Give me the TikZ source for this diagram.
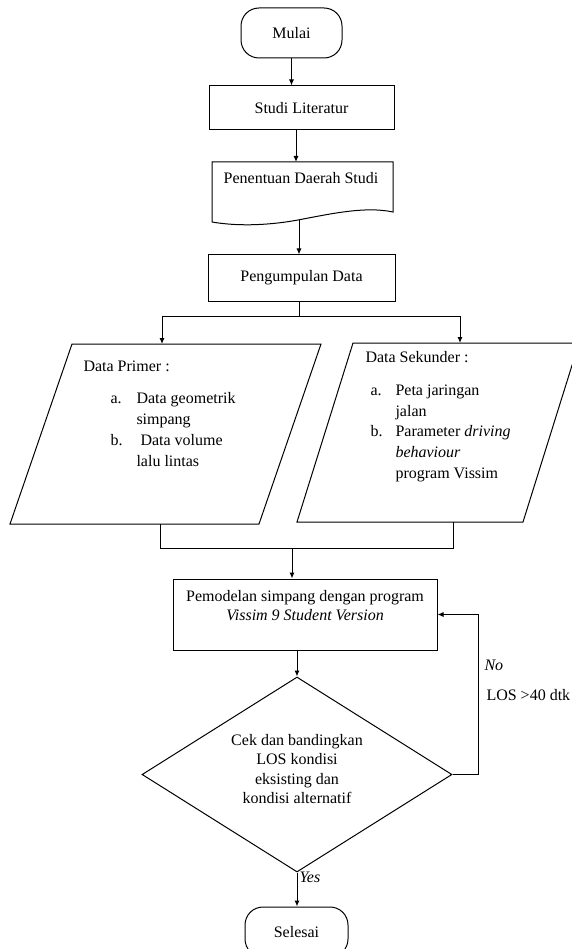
\documentclass[tikz,border=0pt]{standalone}
\usepackage{fontspec}
\setmainfont{Liberation Serif}
\usetikzlibrary{arrows.meta,shapes.geometric}
\begin{document}
\begin{tikzpicture}[x=1pt,y=-1pt,
  every node/.style={font=\fontsize{16}{19.5}\selectfont},
  line width=1pt,
  term/.style={draw, rectangle, rounded corners=18pt, inner sep=0pt},
  procbox/.style={draw, rectangle, inner sep=0pt},
  txt/.style={inner sep=0pt, text height=11pt, text depth=4pt},
  arr/.style={-{Latex[length=6pt,width=5pt]}}]
\useasboundingbox (0,0) rectangle (572,949);
\clip (0,0) rectangle (572,949);
% start
\node[term, minimum width=101pt, minimum height=50pt] (mulai) at (291.5,33) {Mulai};
\node[procbox, minimum width=185pt, minimum height=44pt] (studi) at (301.5,108) {Studi Literatur};
% document shape
\draw (212,162) coordinate (doctl) -- (393,162) coordinate (doctr) -- (393,212)
  .. controls (365,206) and (330,214) .. (298,220)
  .. controls (265,226) and (235,226) .. (212,222) -- cycle;
\node[txt] (doctext) at (301,180) {Penentuan Daerah Studi};
\coordinate (docbot) at (299,220);
\node[procbox, minimum width=187pt, minimum height=46pt] (peng) at (301.5,278) {Pengumpulan Data};
% arrows top
\draw[arr] (mulai.south) -- (mulai.south |- studi.north);
\draw[arr] ([xshift=-5.5pt]studi.south) -- ([xshift=-5.5pt]studi.south |- doctl);
\draw[arr] (docbot) -- (docbot |- peng.north);
% split
\coordinate (split) at (299,316);
\coordinate (lptop) at (162,344);
\coordinate (rptop) at (460,343);
\draw (peng.south -| split) -- (split);
\draw[arr] (split) -| (lptop);
\draw[arr] (split) -| (rptop);
% left parallelogram
\draw (72,344) coordinate (lp1) -- (321,344) -- (259,524) -- (10,524) -- cycle;
\node[txt, anchor=west] (lpt0) at (83,368) {Data Primer :};
\node[txt, anchor=west] (lpa) at (110,400) {a.};
\node[txt, anchor=west] (lpa1) at (136,400) {Data geometrik};
\node[txt, anchor=west] (lpa2) at (136,421) {simpang};
\node[txt, anchor=west] (lpb) at (110,442) {b.};
\node[txt, anchor=west] (lpb1) at (140,442) {Data volume};
\node[txt, anchor=west] (lpb2) at (136,463) {lalu lintas};
% right parallelogram
\draw (353,343) coordinate (rp1) -- (579,343) -- (523,522) -- (297,522) -- cycle;
\node[txt, anchor=west] (rpt0) at (365,359) {Data Sekunder :};
\node[txt, anchor=west] (rpa) at (370,392) {a.};
\node[txt, anchor=west] (rpa1) at (395,392) {Peta jaringan};
\node[txt, anchor=west] (rpa2) at (395,413) {jalan};
\node[txt, anchor=west] (rpb) at (370,433) {b.};
\node[txt, anchor=west] (rpb1) at (395,433) {Parameter \textit{driving}};
\node[txt, anchor=west] (rpb2) at (395,454) {\textit{behaviour}};
\node[txt, anchor=west] (rpb3) at (395,475) {program Vissim};
% merge
\coordinate (lpbot) at (160,524);
\coordinate (rpbot) at (453,522);
\coordinate (merge) at (292,548);
\draw (lpbot) |- (rpbot |- merge) -- (rpbot);
% modelling box
\node[procbox, minimum width=264pt, minimum height=71pt] (pem) at (305,614.5) {};
\node[txt] (pemt1) at (305,598) {Pemodelan simpang dengan program};
\node[txt] (pemt2) at (305,617) {\textit{Vissim 9 Student Version}};
\draw[arr] (merge) -- (merge |- pem.north);
% decision
\node[diamond, draw, minimum width=310pt, minimum height=195pt, inner sep=0pt] (dia) at (297,774.5) {};
\node[align=center, inner sep=0pt] (diat) at (297,769) {Cek dan bandingkan\\LOS kondisi\\eksisting dan\\kondisi alternatif};
\draw[arr] (pem.south -| dia.north) -- (dia.north);
% feedback
\coordinate (fbx) at (478,0);
\draw[arr] (dia.east) -- (dia.east -| fbx) -- (fbx |- pem.east) -- (pem.east);
\node[txt, anchor=west] (nolab) at (484,667) {\textit{No}};
\node[txt, anchor=west] (loslab) at (486,697) {LOS >40 dtk};
% end
\node[term, minimum width=103pt, minimum height=50pt] (selesai) at (296.5,932) {Selesai};
\draw[arr] (dia.south) -- (dia.south |- selesai.north);
\node[txt, anchor=west] (yeslab) at (299,879) {\textit{Yes}};
\end{tikzpicture}
\end{document}
